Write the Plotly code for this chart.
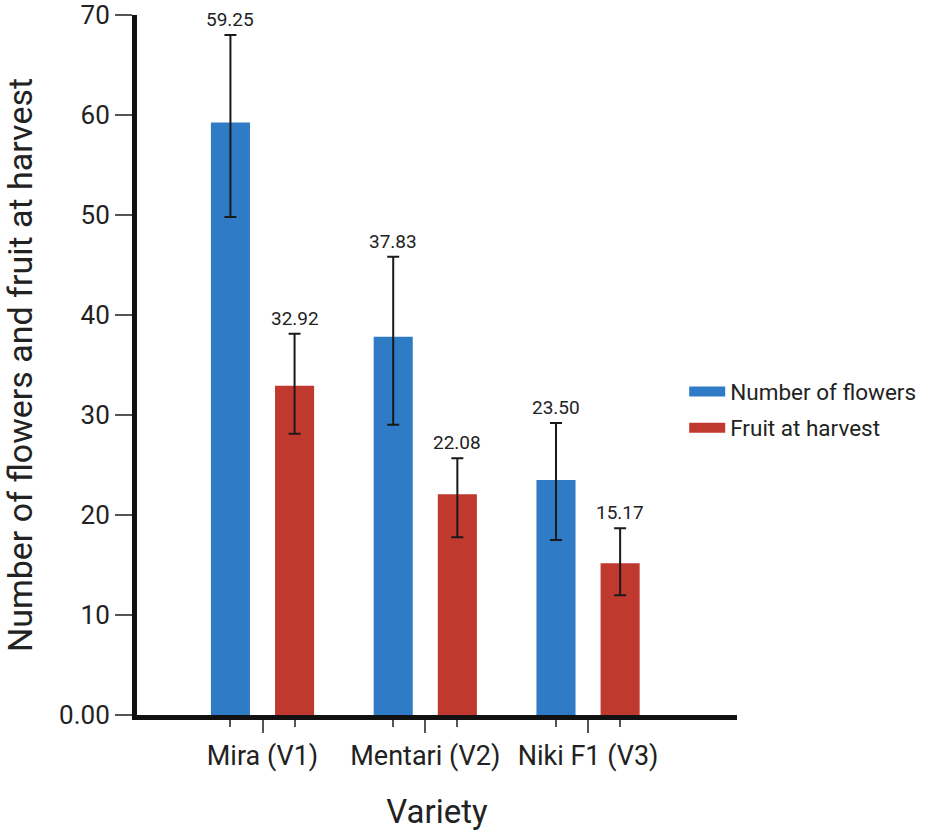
import plotly.graph_objects as go

varieties = ["Mira (V1)", "Mentari (V2)", "Niki F1 (V3)"]
flowers = [59.25, 37.83, 23.50]
flowers_err_plus = [8.75, 8.0, 5.7]
flowers_err_minus = [9.45, 8.8, 6.0]
fruit = [32.92, 22.08, 15.17]
fruit_err_plus = [5.2, 3.6, 3.5]
fruit_err_minus = [4.8, 4.3, 3.2]
y_ticks = [0, 10, 20, 30, 40, 50, 60, 70]
y_ticktext = ["0.00", "10", "20", "30", "40", "50", "60", "70"]

BLUE = "#2F7BC5"
RED = "#C0392E"
FONT = "Roboto"
TXT = "#222222"

xpos = list(range(len(varieties)))
BW = 0.24
SHIFT = 0.197

fig = go.Figure()
for vals, ep, em, color, sign in [
    (flowers, flowers_err_plus, flowers_err_minus, BLUE, -1),
    (fruit, fruit_err_plus, fruit_err_minus, RED, 1),
]:
    fig.add_trace(go.Bar(
        x=xpos, y=vals, width=BW, offset=sign * SHIFT - BW / 2,
        marker=dict(color=color, line=dict(width=0)),
        error_y=dict(type="data", symmetric=False, array=ep, arrayminus=em,
                     color="#1a1a1a", thickness=2, width=6),
        showlegend=False,
    ))
    for i, v in enumerate(vals):
        fig.add_annotation(
            x=i + sign * SHIFT, y=v + ep[i], text=f"{v:.2f}",
            showarrow=False, yanchor="bottom", yshift=2,
            font=dict(family=FONT, size=19, color=TXT),
        )

fig.add_trace(go.Scatter(x=[None], y=[None], mode="lines", name="Number of flowers",
                         line=dict(color=BLUE, width=10), legendgroup="a"))
fig.add_trace(go.Scatter(x=[None], y=[None], mode="lines", name="Fruit at harvest",
                         line=dict(color=RED, width=10), legendgroup="b"))

minor_vals = [i + s * SHIFT for i in xpos for s in (-1, 1)]

fig.update_layout(
    width=935, height=831,
    margin=dict(l=137, r=198, t=15, b=116),
    plot_bgcolor="white", paper_bgcolor="white",
    barmode="overlay",
    font=dict(family=FONT, color=TXT),
    legend=dict(x=0.912, y=0.436, xanchor="left", yanchor="middle",
                font=dict(family=FONT, size=22.5, color=TXT), itemwidth=36,
                traceorder="grouped", tracegroupgap=4, bgcolor="rgba(0,0,0,0)"),
    xaxis=dict(
        range=[-0.771, 2.915], tickmode="array", tickvals=xpos, ticktext=varieties,
        showline=True, linecolor="#111111", linewidth=5, zeroline=False, showgrid=False,
        automargin=False,
        ticks="outside", ticklen=13, tickwidth=1.5, tickcolor="#555555",
        ticklabelstandoff=0,
        tickfont=dict(family=FONT, size=27, color=TXT),
        minor=dict(tickmode="array", tickvals=minor_vals, ticks="outside",
                   ticklen=7, tickwidth=1.5, tickcolor="#555555", showgrid=False),
        title=dict(text="Variety", font=dict(family=FONT, size=33, color=TXT), standoff=36),
    ),
    yaxis=dict(
        range=[0, 70], tickmode="array", tickvals=y_ticks, ticktext=y_ticktext,
        showline=True, linecolor="#111111", linewidth=5, zeroline=False, showgrid=False,
        automargin=False, ticklabeloverflow="allow",
        ticks="outside", ticklen=17, tickwidth=1.5, tickcolor="#555555",
        tickfont=dict(family=FONT, size=26, color=TXT),
        title=dict(text="Number of flowers and fruit at harvest",
                   font=dict(family=FONT, size=34, color=TXT), standoff=20),
    ),
)

fig.write_html("out.html", config={"displayModeBar": False},
               post_script="document.body.style.margin='0';")
